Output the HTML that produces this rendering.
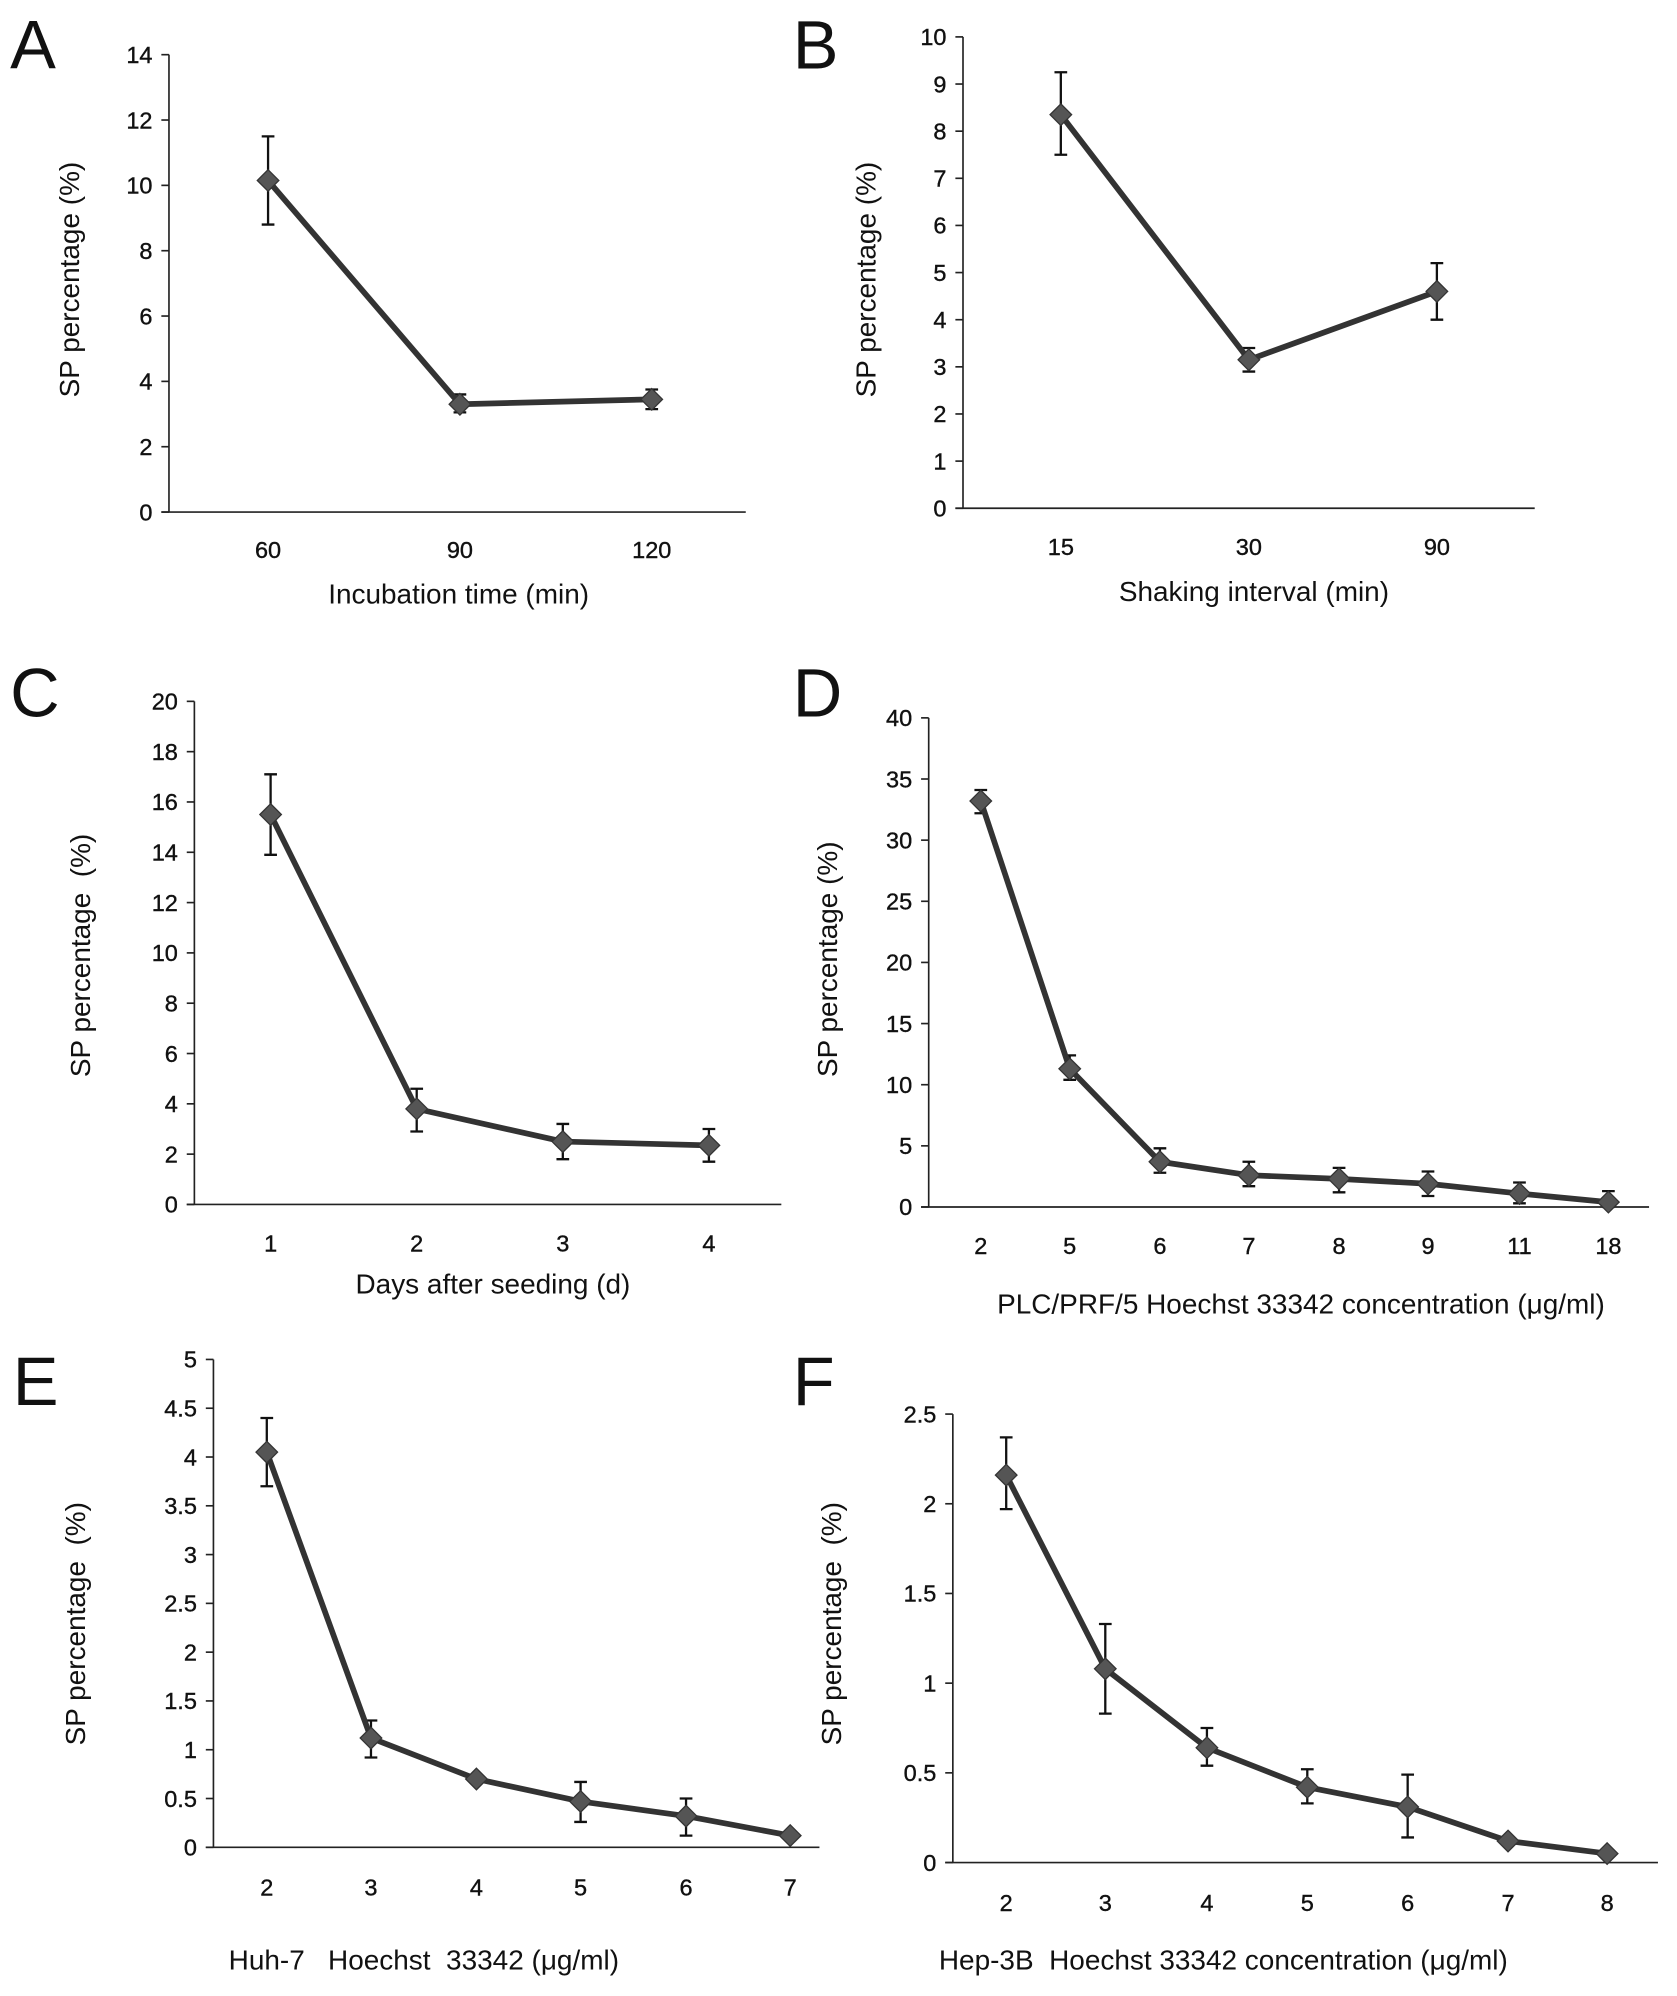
<!DOCTYPE html>
<html><head><meta charset="utf-8"><style>
html,body{margin:0;padding:0;background:#fff}
svg{display:block}
text{font-family:"Liberation Sans",sans-serif;fill:#111;white-space:pre}
</style></head><body>
<svg id="fig" width="1677" height="1996" viewBox="0 0 1320 1571" xmlns="http://www.w3.org/2000/svg"></svg>
<script>
// ---- data ----
const catsA=["60","90","120"], valsA=[10.15,3.3,3.45], loA=[8.8,3.05,3.15], hiA=[11.5,3.6,3.75];
const catsB=["15","30","90"], valsB=[8.35,3.15,4.6], loB=[7.5,2.9,4.0], hiB=[9.25,3.4,5.2];
const catsC=["1","2","3","4"], valsC=[15.5,3.8,2.5,2.35], loC=[13.9,2.9,1.8,1.7], hiC=[17.1,4.6,3.2,3.0];
const catsD=["2","5","6","7","8","9","11","18"], valsD=[33.2,11.3,3.7,2.6,2.3,1.9,1.1,0.4], loD=[32.2,10.4,2.8,1.7,1.2,0.9,0.3,0.0], hiD=[34.1,12.4,4.8,3.7,3.2,2.9,2.0,1.3];
const catsE=["2","3","4","5","6","7"], valsE=[4.05,1.12,0.7,0.47,0.32,0.12], loE=[3.7,0.92,0.66,0.26,0.12,0.09], hiE=[4.4,1.3,0.74,0.67,0.5,0.15];
const catsF=["2","3","4","5","6","7","8"], valsF=[2.16,1.08,0.64,0.42,0.31,0.12,0.05], loF=[1.97,0.83,0.54,0.33,0.14,0.1,0.03], hiF=[2.37,1.33,0.75,0.52,0.49,0.14,0.07];
const ticksA=["0","2","4","6","8","10","12","14"];
const ticksB=["0","1","2","3","4","5","6","7","8","9","10"];
const ticksC=["0","2","4","6","8","10","12","14","16","18","20"];
const ticksD=["0","5","10","15","20","25","30","35","40"];
const ticksE=["0","0.5","1","1.5","2","2.5","3","3.5","4","4.5","5"];
const ticksF=["0","0.5","1","1.5","2","2.5"];

const svg=document.getElementById('fig');
const NS="http://www.w3.org/2000/svg";
function mk(tag,attrs,parent){const e=document.createElementNS(NS,tag);for(const k in attrs)e.setAttribute(k,attrs[k]);(parent||svg).appendChild(e);return e;}

function panel(p){
  const g=mk('g',{});
  
  
  const ymax=parseFloat(p.ticks[p.ticks.length-1]);
  const ys=v=>p.y0-(v/ymax)*(p.y0-p.ytop);
  const xs=i=>p.xc[i];
  const lt=mk('text',{x:p.lx,y:p.ly,'font-size':54},g);lt.textContent=p.id;
  
  
  const ya=mk('line',{x1:p.ax,y1:p.ytop,x2:p.ax,y2:p.y0,stroke:'#222','stroke-width':1.3},g);
  
  
  const xa=mk('line',{x1:p.ax-6,y1:p.y0,x2:p.xend,y2:p.y0,stroke:'#222','stroke-width':1.3},g);
  
  
  p.ticks.forEach(t=>{
    const y=ys(parseFloat(t));
    mk('line',{x1:p.ax-6,y1:y,x2:p.ax,y2:y,stroke:'#222','stroke-width':1.3},g);
    const tx=mk('text',{x:p.ax-13,y:y+6.5,'font-size':18.5,'text-anchor':'end','stroke':'#111','stroke-width':0.3},g);tx.textContent=t;
    
    
  });
  p.cats.forEach((c,i)=>{
    const tx=mk('text',{x:xs(i),y:p.xly,'font-size':18.5,'text-anchor':'middle','stroke':'#111','stroke-width':0.3},g);tx.textContent=c;
    
    
  });
  const xt=mk('text',{x:p.xtx,y:p.xty,'font-size':22,'text-anchor':p.xanchor||'middle'},g);xt.textContent=p.xtitle;
  
  
  const yt=mk('text',{x:0,y:0,'font-size':22,'text-anchor':'middle',transform:`translate(${p.ytx},${p.yty}) rotate(-90)`},g);yt.textContent=p.ytitle;
  
  
  p.vals.forEach((v,i)=>{
    const x=xs(i),a=ys(p.lo[i]),b=ys(p.hi[i]);
    const eb=mk('path',{d:`M${x},${a}V${b}M${x-5},${a}H${x+5}M${x-5},${b}H${x+5}`,stroke:'#111','stroke-width':1.8,fill:'none'},g);
    
    
  });
  const pts=p.vals.map((v,i)=>xs(i)+','+ys(v)).join(' ');
  const ln=mk('polyline',{points:pts,stroke:'#333','stroke-width':4.5,fill:'none','stroke-linejoin':'round'},g);
  
  
  p.vals.forEach((v,i)=>{
    const x=xs(i),y=ys(v),r=8.5;
    const m=mk('polygon',{points:`${x},${y-r} ${x+r},${y} ${x},${y+r} ${x-r},${y}`,fill:'#555',stroke:'#333','stroke-width':1},g);
    
    
  });
}
panel({id:'A',lx:8,ly:54,ax:133,ytop:43,y0:403,xend:587,xc:[211,362,513],xly:439,cats:catsA,vals:valsA,lo:loA,hi:hiA,ticks:ticksA,xtitle:'Incubation time (min)',xtx:361,xty:475,ytitle:'SP percentage (%)',ytx:62,yty:220});
panel({id:'B',lx:624,ly:54,ax:758,ytop:29,y0:400,xend:1208,xc:[835,983,1131],xly:437,cats:catsB,vals:valsB,lo:loB,hi:hiB,ticks:ticksB,xtitle:'Shaking interval (min)',xtx:987,xty:473,ytitle:'SP percentage (%)',ytx:689,yty:220});
panel({id:'C',lx:8,ly:564,ax:153,ytop:552,y0:948,xend:615,xc:[213,328,443,558],xly:985,cats:catsC,vals:valsC,lo:loC,hi:hiC,ticks:ticksC,xtitle:'Days after seeding (d)',xtx:388,xty:1018,ytitle:'SP percentage  (%)',ytx:71,yty:752});
panel({id:'D',lx:624,ly:564,ax:731,ytop:565,y0:950,xend:1298,xc:[772,842,913,983,1054,1124,1196,1266],xly:987,cats:catsD,vals:valsD,lo:loD,hi:hiD,ticks:ticksD,xtitle:'PLC/PRF/5 Hoechst 33342 concentration (\u03bcg/ml)',xtx:1024,xty:1034,ytitle:'SP percentage (%)',ytx:659,yty:755});
panel({id:'E',lx:10,ly:1106,ax:168,ytop:1070,y0:1454,xend:645,xc:[210,292,375,457,540,622],xly:1492,cats:catsE,vals:valsE,lo:loE,hi:hiE,ticks:ticksE,xtitle:'Huh-7   Hoechst  33342 (\u03bcg/ml)',xtx:180,xty:1550,xanchor:'start',ytitle:'SP percentage  (%)',ytx:67,yty:1278});
panel({id:'F',lx:624,ly:1106,ax:750,ytop:1113,y0:1466,xend:1305,xc:[792,870,950,1029,1108,1187,1265],xly:1504,cats:catsF,vals:valsF,lo:loF,hi:hiF,ticks:ticksF,xtitle:'Hep-3B  Hoechst 33342 concentration (\u03bcg/ml)',xtx:739,xty:1550,xanchor:'start',ytitle:'SP percentage  (%)',ytx:662,yty:1278});
</script>
</body></html>
